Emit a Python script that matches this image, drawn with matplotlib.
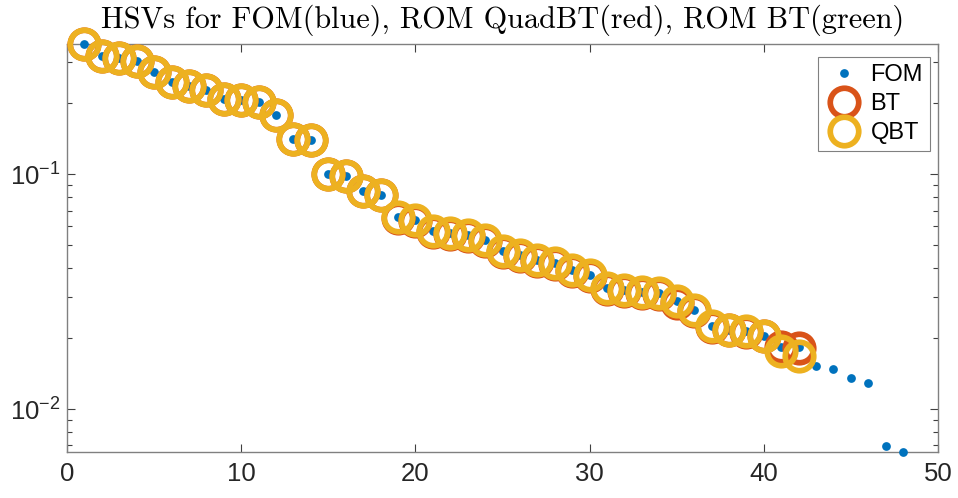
import matplotlib
matplotlib.use("Agg")
import matplotlib.pyplot as plt
from matplotlib.ticker import FixedLocator, LogLocator, NullFormatter, FuncFormatter
import numpy as np

plt.rcParams['font.family'] = ['Liberation Sans', 'DejaVu Sans']
plt.rcParams['mathtext.fontset'] = 'custom'
plt.rcParams['mathtext.rm'] = 'Liberation Sans'
plt.rcParams['mathtext.it'] = 'Liberation Sans:italic'
plt.rcParams['mathtext.bf'] = 'Liberation Sans:bold'

# Hankel singular values, full order model (48 values)
fom = [0.3584, 0.3197, 0.3126, 0.3044, 0.2716, 0.2463, 0.2375, 0.2284, 0.2085, 0.2061,
       0.2037, 0.1788, 0.1413, 0.1400, 0.1003, 0.0986, 0.0849, 0.0816, 0.0654, 0.0639,
       0.0574, 0.0563, 0.0552, 0.0522, 0.0472, 0.0453, 0.0432, 0.0418, 0.0392, 0.0373,
       0.0329, 0.0322, 0.0315, 0.0312, 0.0287, 0.0265, 0.0226, 0.0218, 0.0214, 0.0205,
       0.0184, 0.0184, 0.0153, 0.0148, 0.0135, 0.0129, 0.00693, 0.00656]

# ROM via balanced truncation (42 values)
bt = [0.3584, 0.3197, 0.3126, 0.3044, 0.2716, 0.2463, 0.2375, 0.2284, 0.2085, 0.2061,
      0.2037, 0.1788, 0.1410, 0.1397, 0.1000, 0.0983, 0.0846, 0.0812, 0.0648, 0.0633,
      0.0569, 0.0558, 0.0547, 0.0517, 0.0467, 0.0448, 0.0427, 0.0413, 0.0388, 0.0369,
      0.0325, 0.0318, 0.0311, 0.0308, 0.0284, 0.0262, 0.0224, 0.0216, 0.0212, 0.0204,
      0.0183, 0.0182]

# ROM via quadrature-based balanced truncation (42 values)
qbt = [0.3584, 0.3197, 0.3126, 0.3044, 0.2716, 0.2463, 0.2375, 0.2284, 0.2085, 0.2061,
       0.2037, 0.1788, 0.1413, 0.1400, 0.1003, 0.0986, 0.0849, 0.0816, 0.0654, 0.0639,
       0.0574, 0.0563, 0.0552, 0.0522, 0.0472, 0.0453, 0.0432, 0.0418, 0.0392, 0.0373,
       0.0329, 0.0322, 0.0315, 0.0312, 0.0287, 0.0265, 0.0226, 0.0218, 0.0214, 0.0205,
       0.01758, 0.01685]

title = 'HSVs for FOM(blue), ROM QuadBT(red), ROM BT(green)'
xticks = [0, 10, 20, 30, 40, 50]

c_blue = '#0072BD'
c_red = '#D95319'
c_yel = '#EDB120'

fig = plt.figure(figsize=(9.58, 4.98), dpi=100)
ax = fig.add_axes([67/958, 1-452/498, (938-67)/958, (452-44)/498])

ax.plot(range(1, len(fom)+1), fom, linestyle='none', marker='o', ms=6.3,
        color=c_blue, mec='none', label='FOM', zorder=3, clip_on=False)
ax.plot(range(1, len(bt)+1), bt, linestyle='none', marker='o', ms=20.5,
        mfc='none', mec=c_red, mew=4.1, label='BT', zorder=4, clip_on=False)
ax.plot(range(1, len(qbt)+1), qbt, linestyle='none', marker='o', ms=20.5,
        mfc='none', mec=c_yel, mew=4.1, label='QBT', zorder=5, clip_on=False)

ax.set_yscale('log')
ax.set_xlim(0, 50)
ax.set_ylim(min(fom), max(fom))
ax.set_xticks(xticks)
ax.set_xticklabels([str(t) for t in xticks])
ax.yaxis.set_major_locator(FixedLocator([0.01, 0.1]))
ax.yaxis.set_major_formatter(FuncFormatter(
    lambda v, p: r'$\mathregular{10^{%d}}$' % int(round(np.log10(v)))))
ax.yaxis.set_minor_locator(LogLocator(base=10, subs=np.arange(2, 10), numticks=20))
ax.yaxis.set_minor_formatter(NullFormatter())

for s in ax.spines.values():
    s.set_color('#808080')
    s.set_linewidth(1.0)
ax.tick_params(which='both', direction='in', top=True, right=True, color='#404040',
               labelcolor='#262626', labelsize=18.5)
ax.tick_params(which='major', length=6, width=0.8)
ax.tick_params(which='minor', length=3.5, width=0.8)
ax.tick_params(axis='x', pad=7)
ax.tick_params(axis='y', pad=5)

ax.set_title(title, fontfamily='cmr10', fontsize=21.8, color='black', pad=12)

leg = ax.legend(loc='upper right', bbox_to_anchor=(1 - 8/871, 1 - 13/408),
                fontsize=17, frameon=True, fancybox=False, edgecolor='#808080',
                framealpha=1, borderpad=0.3, labelspacing=0.3, handletextpad=0.3,
                handlelength=1.6, borderaxespad=0)
leg.get_frame().set_linewidth(0.8)
leg.set_zorder(10)

fig.savefig('out.png', dpi=100)
